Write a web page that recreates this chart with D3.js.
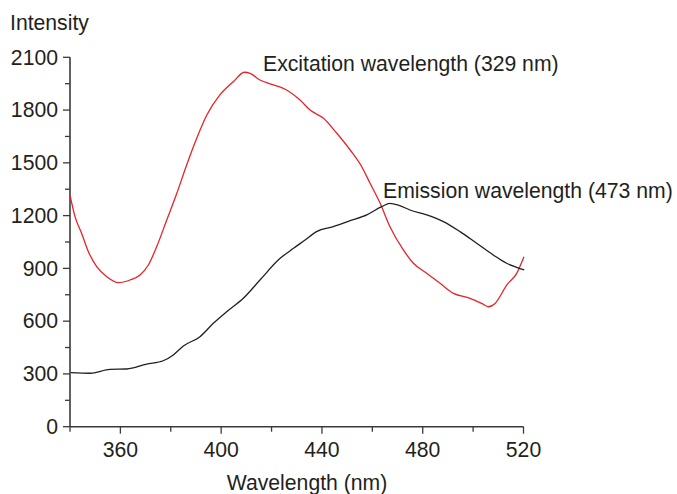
<!DOCTYPE html>
<html><head><meta charset="utf-8">
<script src="https://cdn.jsdelivr.net/npm/d3@7"></script>
<style>body{margin:0;background:#fff}svg{display:block}text{font-family:"Liberation Sans",Arial,sans-serif;fill:#231f20}</style>
</head><body>
<script>
// Excitation spectrum (red)
const excWl = [340,342,344.6,347.3,350.6,354.6,359.2,363.8,367.8,371.1,374.4,378.4,382.4,386.3,390.3,394.3,399.5,404.8,409.2,411.5,415.4,419.4,426,431.3,435.3,440.6,445.9,451.2,455.8,459.1,463.1,467,472.3,476.3,481.6,486.9,492.2,498.8,503.4,506.1,508.7,513.4,517.3,520.2];
const excInt = [1317,1194,1100,995,910,853,819,834,862,919,1023,1175,1327,1488,1640,1772,1886,1961,2015,2009,1971,1949,1914,1857,1800,1753,1668,1573,1478,1384,1270,1137,1005,929,872,815,758,730,701,682,701,806,872,966];
// Emission spectrum (black)
const emWl = [340.3,348,355.9,362.5,370.4,377,381,385,391.6,396.9,402.2,408.8,415.4,423.4,428.7,433.3,437.9,444.5,451.2,457.8,463.7,467,470.3,474.9,481.6,488.2,494.8,501.4,508,513.3,517.3,520.3];
const emInt = [307,304,326,328,356,375,408,459,512,588,654,730,834,957,1014,1061,1109,1137,1171,1204,1251,1270,1260,1232,1204,1166,1109,1043,976,929,906,891];
const xTicks = [360,400,440,480,520];
const yTicks = [0,300,600,900,1200,1500,1800,2100];
const labels = ["Excitation wavelength (329 nm)","Emission wavelength (473 nm)"];

const W=677,H=494;
const svg=d3.select("body").append("svg").attr("width",W).attr("height",H);
const x=d3.scaleLinear().domain([340,520]).range([70,523.5]);
const y=d3.scaleLinear().domain([0,2100]).range([426.7,57.3]);
const axisCol="#3a3a3a";
const fs="21.2px";

// x axis
const gx=svg.append("g").attr("transform",`translate(0,${y(0)})`);
gx.append("line").attr("x1",x(340)).attr("x2",x(520)).attr("stroke",axisCol).attr("stroke-width",1.6);
const xMinor=d3.range(340,521,20);
gx.selectAll(".tk").data(xMinor).join("line").attr("x1",d=>x(d)).attr("x2",d=>x(d)).attr("y1",0)
  .attr("y2",d=>xTicks.includes(d)?7:5).attr("stroke",axisCol).attr("stroke-width",1.3);
gx.selectAll(".lb").data(xTicks).join("text").attr("x",d=>x(d)).attr("y",30.5).attr("text-anchor","middle")
  .style("font-size",fs).text(d=>d);

// y axis
const gy=svg.append("g").attr("transform",`translate(${x(340)},0)`);
gy.append("line").attr("y1",y(0)).attr("y2",y(2100)).attr("stroke",axisCol).attr("stroke-width",1.6);
const yMinor=d3.range(0,2101,150);
gy.selectAll(".tk").data(yMinor).join("line").attr("y1",d=>y(d)).attr("y2",d=>y(d)).attr("x1",0)
  .attr("x2",d=>yTicks.includes(d)?-7:-5).attr("stroke",axisCol).attr("stroke-width",1.3);
gy.selectAll(".lb").data(yTicks).join("text").attr("x",-12).attr("y",d=>y(d)+7.3).attr("text-anchor","end")
  .style("font-size",fs).text(d=>d);

svg.append("text").attr("x",10).attr("y",29.5).style("font-size",fs).text("Intensity");
svg.append("text").attr("x",307).attr("y",490).attr("text-anchor","middle").style("font-size",fs).text("Wavelength (nm)");

const line=d3.line().curve(d3.curveMonotoneX).x(d=>x(d[0])).y(d=>y(d[1]));
svg.append("path").datum(excWl.map((w,i)=>[w,excInt[i]])).attr("d",line).attr("fill","none").attr("stroke","#e8222a").attr("stroke-width",1.3);
svg.append("path").datum(emWl.map((w,i)=>[w,emInt[i]])).attr("d",line).attr("fill","none").attr("stroke","#231f20").attr("stroke-width",1.3);

svg.append("text").attr("x",263).attr("y",71).style("font-size",fs).text(labels[0]);
svg.append("text").attr("x",383).attr("y",198).style("font-size",fs).text(labels[1]);
</script>
</body></html>
